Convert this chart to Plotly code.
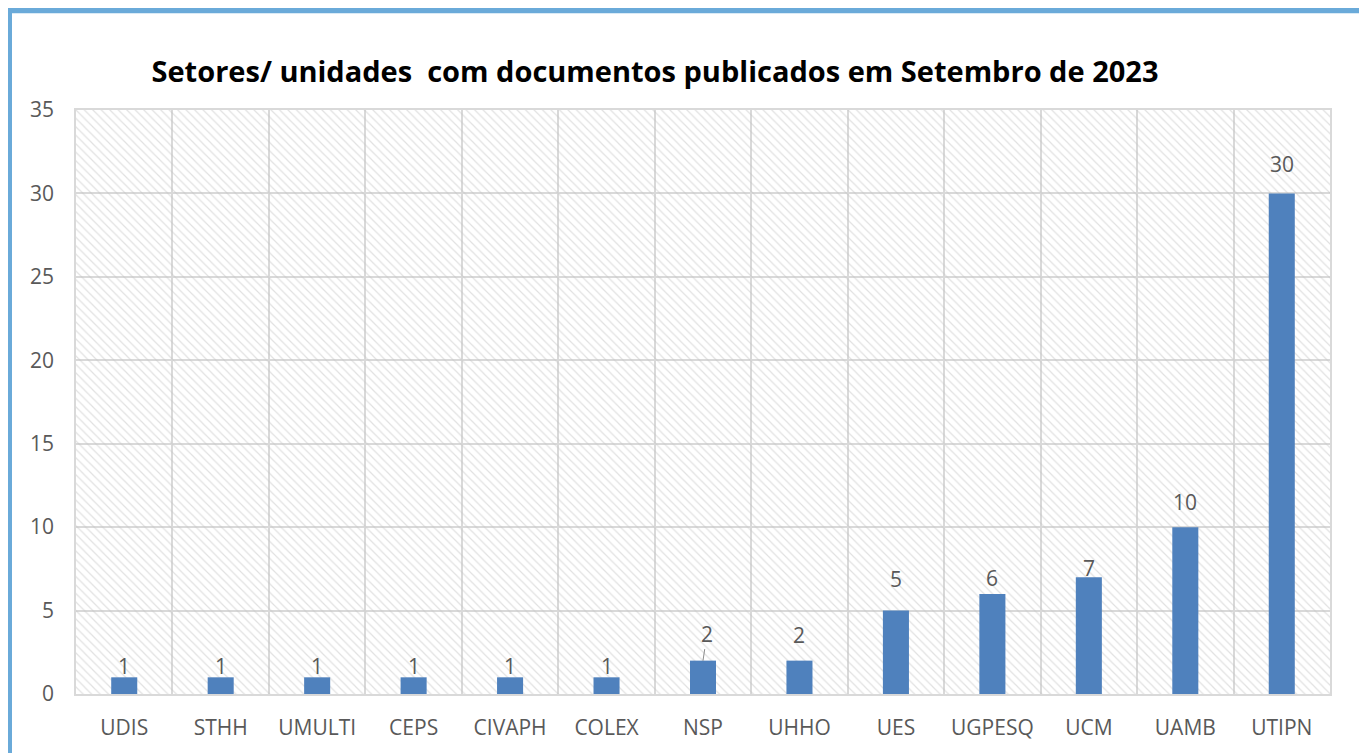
import plotly.graph_objects as go

# -- Dados ----------------------------------------------------------------
setores = ["UDIS", "STHH", "UMULTI", "CEPS", "CIVAPH", "COLEX", "NSP",
           "UHHO", "UES", "UGPESQ", "UCM", "UAMB", "UTIPN"]
documentos = [1, 1, 1, 1, 1, 1, 2, 2, 5, 6, 7, 10, 30]
y_ticks = [0, 5, 10, 15, 20, 25, 30, 35]

# deslocamento (px) dos rotulos acima das barras, como no original
desloc_rotulo = [11, 11, 11, 11, 11, 11, 27, 26, 32, 16, 9, 25, 29]

FONT = "Open Sans"
AZUL = "#4f81bd"
CINZA = "#595959"
GRADE = "#d9d9d9"

# a pagina tem 8px de margem no body: figura um pouco menor
W, H = 1359, 745
ML, MR, MT, MB = 68, 37, 102, 57
PW, PH = W - ML - MR, H - MT - MB

fig = go.Figure()

# fundo hachurado da area do grafico (eixo x principal, escondido)
fig.add_trace(go.Bar(
    x=[0.5], y=[max(y_ticks)], width=[1], xaxis="x",
    marker=dict(color="rgba(0,0,0,0)", line_width=0,
                pattern=dict(shape="\\", fgcolor="#c4c4c4", bgcolor="rgba(0,0,0,0)",
                             size=6, solidity=0.2)),
    hoverinfo="skip", showlegend=False,
))

fig.add_trace(go.Bar(
    x=setores, y=documentos, xaxis="x2",
    marker=dict(color=AZUL, line_width=0),
    showlegend=False,
))

# rotulos de dados
for s, v, d in zip(setores, documentos, desloc_rotulo):
    if s == "NSP":
        # rotulo deslocado com linha de chamada
        fig.add_annotation(
            x=s, y=v, xref="x2", yref="y", text=str(v),
            showarrow=True, arrowhead=0, arrowwidth=1, arrowcolor="#8c8c8c",
            ax=4, ay=-d, standoff=0,
            font=dict(family=FONT, size=21, color=CINZA),
        )
    else:
        fig.add_annotation(
            x=s, y=v, xref="x2", yref="y", text=str(v),
            showarrow=False, yanchor="middle", yshift=d,
            font=dict(family=FONT, size=21, color=CINZA),
        )

fig.update_layout(
    width=W, height=H,
    margin=dict(l=ML, r=MR, t=MT, b=MB),
    paper_bgcolor="#6aaad9",
    plot_bgcolor="white",
    bargap=0.73,
    title=dict(
        text="<b>Setores/ unidades  com documentos publicados em Setembro de 2023</b>",
        xref="paper", x=(647 - ML) / PW, xanchor="center",
        y=1 - 64 / H, yanchor="middle",
        font=dict(family=FONT, size=29, color="black"),
    ),
    xaxis=dict(range=[0, 1], visible=False, fixedrange=True),
    xaxis2=dict(
        overlaying="x", side="bottom",
        type="category", tickson="boundaries", showgrid=True, gridcolor=GRADE, gridwidth=1.5,
        showline=True, linecolor=GRADE, linewidth=1.5, mirror=True,
        ticks="", ticklabelstandoff=14,
        tickfont=dict(family=FONT, size=21, color=CINZA),
    ),
    yaxis=dict(
        range=[0, 35], tickvals=y_ticks, showgrid=True, gridcolor=GRADE, gridwidth=1.5,
        showline=True, linecolor=GRADE, linewidth=1.5, mirror=True, zeroline=False,
        ticks="", ticklabelstandoff=16,
        tickfont=dict(family=FONT, size=21, color=CINZA),
    ),
    shapes=[dict(type="rect", xref="paper", yref="paper", layer="below",
                 x0=(4 - ML) / PW, x1=(1353 - ML) / PW, y0=-0.3, y1=(PH + MT - 5) / PH,
                 fillcolor="white", line_width=0)],
)

fig.write_html("out.html")
